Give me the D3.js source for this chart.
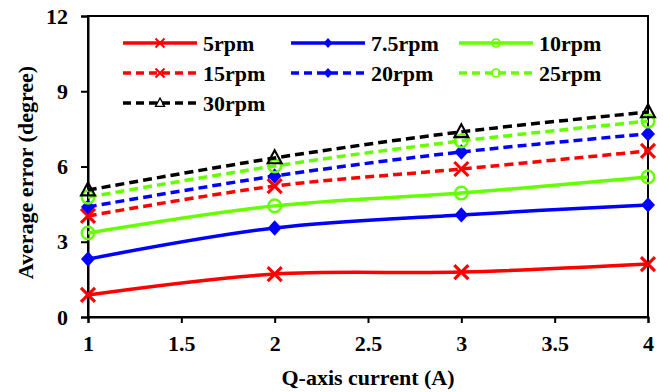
<!DOCTYPE html>
<html>
<head>
<meta charset="utf-8">
<script src="https://cdn.jsdelivr.net/npm/d3@7"></script>
<style>
  body { margin: 0; background: #fff; }
</style>
</head>
<body>
<svg width="670" height="392"></svg>
<script>
// data
var currents = [1, 2, 3, 4];
var rpm5   = [0.88, 1.71, 1.79, 2.11];
var rpm7_5 = [2.31, 3.55, 4.07, 4.47];
var rpm10  = [3.35, 4.43, 4.94, 5.58];
var rpm15  = [4.03, 5.22, 5.90, 6.62];
var rpm20  = [4.39, 5.62, 6.58, 7.30];
var rpm25  = [4.78, 6.02, 7.02, 7.81];
var rpm30  = [5.06, 6.34, 7.38, 8.17];
var xTicks = [1, 1.5, 2, 2.5, 3, 3.5, 4];
var yTicks = [0, 3, 6, 9, 12];

var series = [
  { name: "5rpm",   values: rpm5,   color: "#ff0000", dash: null,  marker: "x" },
  { name: "7.5rpm", values: rpm7_5, color: "#0000ff", dash: null,  marker: "diamond" },
  { name: "10rpm",  values: rpm10,  color: "#66ff00", dash: null,  marker: "circle" },
  { name: "15rpm",  values: rpm15,  color: "#ff0000", dash: "9,5", marker: "x" },
  { name: "20rpm",  values: rpm20,  color: "#0000ff", dash: "9,5", marker: "diamond" },
  { name: "25rpm",  values: rpm25,  color: "#66ff00", dash: "9,5", marker: "circle" },
  { name: "30rpm",  values: rpm30,  color: "#000000", dash: "9,5", marker: "triangle" }
];

var FONT = "'Liberation Serif', 'DejaVu Serif', serif";
var FS = 22;

var margin = { top: 16, right: 22, bottom: 75, left: 88 };
var width = 670 - margin.left - margin.right,
    height = 392 - margin.top - margin.bottom;

var svg = d3.select("svg").append("g")
  .attr("transform", "translate(" + margin.left + "," + margin.top + ")");

var x = d3.scaleLinear().domain([1, 4]).range([0, width]);
var y = d3.scaleLinear().domain([0, 12]).range([height, 0]);

// frame
svg.append("rect").attr("width", width).attr("height", height)
  .attr("fill", "none").attr("stroke", "#000").attr("stroke-width", 2);

var xAxis = svg.append("g").attr("transform", "translate(0," + height + ")")
  .call(d3.axisBottom(x).tickValues(xTicks).tickSize(6).tickPadding(12).tickFormat(d3.format("")));
var yAxis = svg.append("g")
  .call(d3.axisLeft(y).tickValues(yTicks).tickSize(7).tickPadding(13));

[xAxis, yAxis].forEach(function (a) {
  a.attr("font-family", FONT).attr("font-weight", "bold").attr("font-size", FS);
  a.select(".domain").attr("stroke-width", 2);
  a.selectAll(".tick line").attr("stroke-width", 2);
  a.selectAll(".tick text").attr("fill", "#000");
});

svg.append("text").attr("x", width / 2).attr("y", height + 68)
  .attr("text-anchor", "middle").attr("font-family", FONT).attr("font-weight", "bold")
  .attr("font-size", FS).text("Q-axis current (A)");
svg.append("text").attr("transform", "rotate(-90)")
  .attr("x", -height / 2 - 6).attr("y", -55)
  .attr("text-anchor", "middle").attr("font-family", FONT).attr("font-weight", "bold")
  .attr("font-size", FS).text("Average error (degree)");

var line = d3.line()
  .x(function (d, i) { return x(currents[i]); })
  .y(function (d) { return y(d); })
  .curve(d3.curveCatmullRom.alpha(0.5));

function drawMarker(g, type, color, size) {
  var s = size;
  if (type === "x") {
    g.append("path").attr("d", "M" + (-s) + "," + (-s) + "L" + s + "," + s + "M" + (-s) + "," + s + "L" + s + "," + (-s))
      .attr("stroke", color).attr("stroke-width", s * 0.45).attr("fill", "none");
  } else if (type === "diamond") {
    g.append("path").attr("d", "M0," + (-s * 1.1) + "L" + s + ",0L0," + (s * 1.1) + "L" + (-s) + ",0Z")
      .attr("fill", color);
  } else if (type === "circle") {
    g.append("circle").attr("r", s * 0.9).attr("fill", "none")
      .attr("stroke", color).attr("stroke-width", s * 0.35);
  } else if (type === "triangle") {
    g.append("path").attr("d", "M0," + (-s * 1.1) + "L" + s + "," + (s * 0.75) + "L" + (-s) + "," + (s * 0.75) + "Z")
      .attr("fill", "none").attr("stroke", color).attr("stroke-width", s * 0.3);
  }
}

series.forEach(function (s) {
  svg.append("path").datum(s.values)
    .attr("d", line).attr("fill", "none")
    .attr("stroke", s.color).attr("stroke-width", 3.5)
    .attr("stroke-dasharray", s.dash);
  s.values.forEach(function (v, i) {
    var g = svg.append("g").attr("transform", "translate(" + x(currents[i]) + "," + y(v) + ")");
    drawMarker(g, s.marker, s.color, 7);
  });
});

// legend
var legCols = [35, 203, 371];
var legRows = [27, 57, 87];
series.forEach(function (s, i) {
  var lx = legCols[i % 3], ly = legRows[Math.floor(i / 3)];
  var g = svg.append("g").attr("transform", "translate(" + lx + "," + ly + ")");
  g.append("line").attr("x1", 0).attr("x2", 74).attr("stroke", s.color)
    .attr("stroke-width", 3.5).attr("stroke-dasharray", s.dash ? "8,5" : null);
  var m = g.append("g").attr("transform", "translate(37,0)");
  drawMarker(m, s.marker, s.color, 4.5);
  g.append("text").attr("x", 80).attr("y", 7.5).attr("font-family", FONT)
    .attr("font-weight", "bold").attr("font-size", FS).text(s.name);
});
</script>
</body>
</html>
